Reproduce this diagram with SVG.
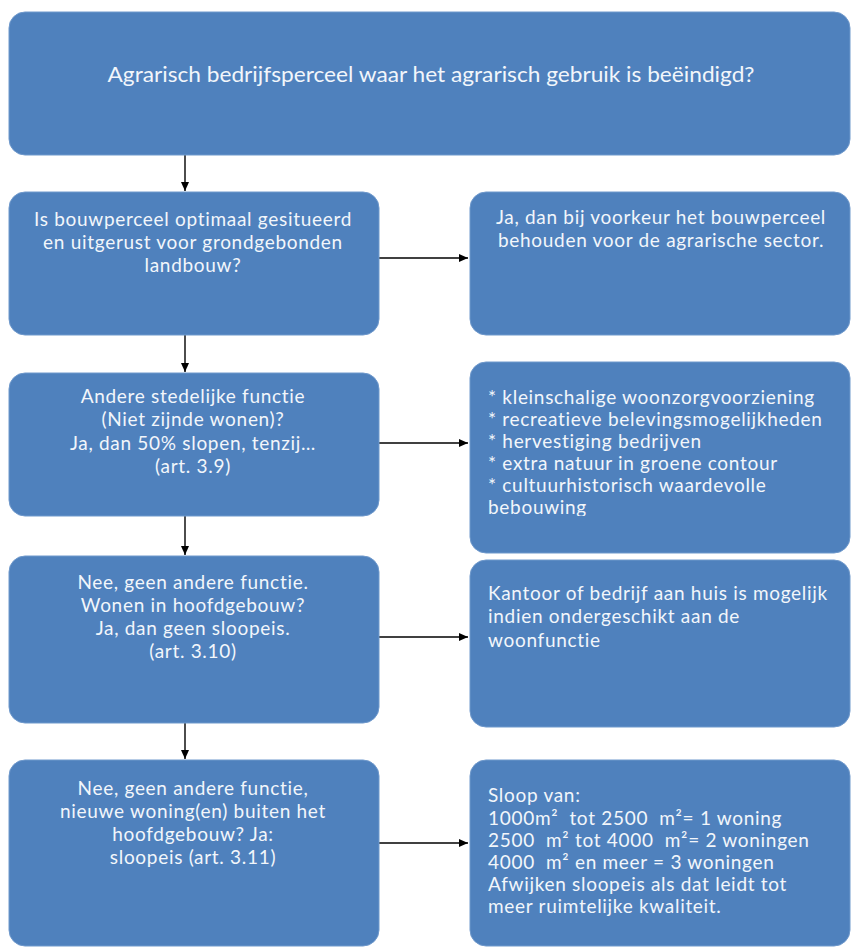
<svg xmlns="http://www.w3.org/2000/svg" width="852" height="949" viewBox="0 0 852 949">
<style>
.box{fill:#4f81bd;stroke:#6f99cc;stroke-width:1}
.t{font-family:Lato,"Open Sans","DejaVu Sans",sans-serif;font-size:19px;letter-spacing:0.7px;fill:#f2f6fb}
.c{text-anchor:middle}
.ttl{font-family:Lato,"Open Sans","DejaVu Sans",sans-serif;font-size:21px;fill:#f2f6fb;text-anchor:middle}
.conn{stroke:#000;stroke-width:1.4;fill:none}
</style>
<defs>
<marker id="ah" markerUnits="userSpaceOnUse" markerWidth="10" markerHeight="10" refX="9" refY="5" orient="auto">
<path d="M0,1 L9,5 L0,9 Z" fill="#000"/>
</marker>
<clipPath id="clipR3"><rect x="470" y="362" width="380" height="154"/></clipPath>
</defs>
<rect width="852" height="949" fill="#ffffff"/>

<g id="connectors">
<line class="conn" x1="185" y1="155" x2="185" y2="191" marker-end="url(#ah)"/>
<line class="conn" x1="185" y1="335" x2="185" y2="372" marker-end="url(#ah)"/>
<line class="conn" x1="185" y1="516" x2="185" y2="555" marker-end="url(#ah)"/>
<line class="conn" x1="185" y1="723" x2="185" y2="759" marker-end="url(#ah)"/>
<line class="conn" x1="379" y1="258" x2="468" y2="258" marker-end="url(#ah)"/>
<line class="conn" x1="379" y1="443" x2="468" y2="443" marker-end="url(#ah)"/>
<line class="conn" x1="379" y1="637" x2="468" y2="637" marker-end="url(#ah)"/>
<line class="conn" x1="379" y1="843" x2="468" y2="843" marker-end="url(#ah)"/>
</g>

<g id="start">
<rect class="box" x="9" y="12" width="841" height="143" rx="16"/>
<text class="ttl" x="431" y="82" textLength="647" lengthAdjust="spacingAndGlyphs">Agrarisch bedrijfsperceel waar het agrarisch gebruik is beëindigd?</text>
</g>

<g id="q1">
<rect class="box" x="9" y="192" width="370" height="143" rx="16"/>
<text class="t c" x="193" y="226">Is bouwperceel optimaal gesitueerd</text>
<text class="t c" x="193" y="249">en uitgerust voor grondgebonden</text>
<text class="t c" x="193" y="272">landbouw?</text>
</g>

<g id="a1">
<rect class="box" x="470" y="192" width="380" height="143" rx="16"/>
<text class="t c" x="661" y="224">Ja, dan bij voorkeur het bouwperceel</text>
<text class="t c" x="661" y="247">behouden voor de agrarische sector.</text>
</g>

<g id="q2">
<rect class="box" x="9" y="373" width="370" height="143" rx="16"/>
<text class="t c" x="193" y="403">Andere stedelijke functie</text>
<text class="t c" x="193" y="426">(Niet zijnde wonen)?</text>
<text class="t c" x="193" y="450">Ja, dan 50% slopen, tenzij…</text>
<text class="t c" x="193" y="473">(art. 3.9)</text>
</g>

<g id="a2">
<rect class="box" x="470" y="362" width="380" height="191" rx="16"/>
<g clip-path="url(#clipR3)">
<text class="t" x="488" y="404">* kleinschalige woonzorgvoorziening</text>
<text class="t" x="488" y="426">* recreatieve belevingsmogelijkheden</text>
<text class="t" x="488" y="448">* hervestiging bedrijven</text>
<text class="t" x="488" y="470">* extra natuur in groene contour</text>
<text class="t" x="488" y="492">* cultuurhistorisch waardevolle</text>
<text class="t" x="488" y="514">bebouwing</text>
</g>
</g>

<g id="q3">
<rect class="box" x="9" y="556" width="370" height="167" rx="16"/>
<text class="t c" x="193" y="589">Nee, geen andere functie.</text>
<text class="t c" x="193" y="612">Wonen in hoofdgebouw?</text>
<text class="t c" x="193" y="635">Ja, dan geen sloopeis.</text>
<text class="t c" x="193" y="658">(art. 3.10)</text>
</g>

<g id="a3">
<rect class="box" x="470" y="560" width="380" height="167" rx="16"/>
<text class="t" x="488" y="600">Kantoor of bedrijf aan huis is mogelijk</text>
<text class="t" x="488" y="623">indien ondergeschikt aan de</text>
<text class="t" x="488" y="647">woonfunctie</text>
</g>

<g id="q4">
<rect class="box" x="9" y="760" width="370" height="186" rx="16"/>
<text class="t c" x="193" y="795">Nee, geen andere functie,</text>
<text class="t c" x="193" y="818">nieuwe woning(en) buiten het</text>
<text class="t c" x="193" y="841">hoofdgebouw? Ja:</text>
<text class="t c" x="193" y="864">sloopeis (art. 3.11)</text>
</g>

<g id="a4">
<rect class="box" x="470" y="760" width="380" height="186" rx="16"/>
<text class="t" x="488" y="802">Sloop van:</text>
<text class="t" x="488" y="825" xml:space="preserve">1000m²  tot 2500  m²= 1 woning</text>
<text class="t" x="488" y="847" xml:space="preserve">2500  m² tot 4000  m²= 2 woningen</text>
<text class="t" x="488" y="869" xml:space="preserve">4000  m² en meer = 3 woningen</text>
<text class="t" x="488" y="891">Afwijken sloopeis als dat leidt tot</text>
<text class="t" x="488" y="913">meer ruimtelijke kwaliteit.</text>
</g>
</svg>
